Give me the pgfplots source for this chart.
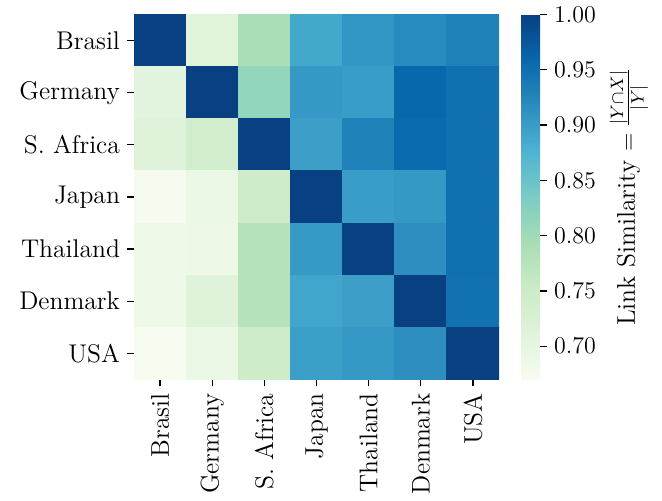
\documentclass[border=0pt]{standalone}
\usepackage{pgfplots}
\pgfplotsset{compat=1.18}
\usepackage{pgfplotstable}
\pgfplotstableread{
x y c
0 0 1.000
1 0 0.711
2 0 0.792
3 0 0.888
4 0 0.908
5 0 0.920
6 0 0.930
0 1 0.705
1 1 1.000
2 1 0.812
3 1 0.905
4 1 0.900
5 1 0.959
6 1 0.950
0 2 0.713
1 2 0.742
2 2 1.000
3 2 0.897
4 2 0.930
5 2 0.955
6 2 0.950
0 3 0.673
1 3 0.690
2 3 0.748
3 3 1.000
4 3 0.900
5 3 0.905
6 3 0.950
0 4 0.686
1 4 0.688
2 4 0.779
3 4 0.903
4 4 1.000
5 4 0.915
6 4 0.950
0 5 0.686
1 5 0.713
2 5 0.779
3 5 0.890
4 5 0.897
5 5 1.000
6 5 0.947
0 6 0.672
1 6 0.689
2 6 0.748
3 6 0.898
4 6 0.905
5 6 0.915
6 6 1.000
}\simtable
\begin{document}
\begin{tikzpicture}
\begin{axis}[
  name=ax,
  width=182.5pt, height=182.5pt, scale only axis,
  xmin=-0.5, xmax=6.5, ymin=-0.5, ymax=6.5,
  y dir=reverse,
  axis line style={draw=none},
  xtick={0,...,6}, ytick={0,...,6},
  xticklabels={Brasil,Germany,S. Africa,Japan,Thailand,Denmark,USA},
  yticklabels={Brasil,Germany,S. Africa,Japan,Thailand,Denmark,USA},
  tick label style={font=\fontsize{12.8pt}{15pt}\selectfont},
  label style={font=\fontsize{12.8pt}{15pt}\selectfont},
  xticklabel style={rotate=90, anchor=east},
  tick align=outside, xtick pos=bottom, ytick pos=left,
  major tick length=3.5pt,
  tick style={black, line width=0.6pt},
  colormap={GnBu}{rgb255=(247,252,240) rgb255=(224,243,219) rgb255=(204,235,197) rgb255=(168,221,181) rgb255=(123,204,196) rgb255=(78,179,211) rgb255=(43,140,190) rgb255=(8,104,172) rgb255=(8,64,129)},
  point meta min=0.67, point meta max=1.0,
  colorbar right,
  colorbar style={
    width=9.5pt,
    at={(parent axis.north east)}, anchor=north west, xshift=2.5pt,
    axis line style={draw=none},
    ytick={0.70,0.75,0.80,0.85,0.90,0.95,1.00},
    ytick pos=right,
    yticklabel style={font=\fontsize{12.8pt}{15pt}\selectfont, /pgf/number format/.cd, fixed, fixed zerofill, precision=2},
    ylabel style={font=\fontsize{12.8pt}{15pt}\selectfont},
    tick align=outside, major tick length=3.5pt,
    tick style={black, line width=0.6pt},
    ylabel={Link Similarity $= \frac{|Y\cap X|}{|Y|}$},
  },
]
\addplot[matrix plot*, mesh/cols=7, point meta=explicit] table[x=x, y=y, meta=c] {\simtable};
\end{axis}
\path ([shift={(-67pt,-60pt)}]ax.south west) rectangle ([shift={(81.5pt,7pt)}]ax.north east);
\end{tikzpicture}
\end{document}
